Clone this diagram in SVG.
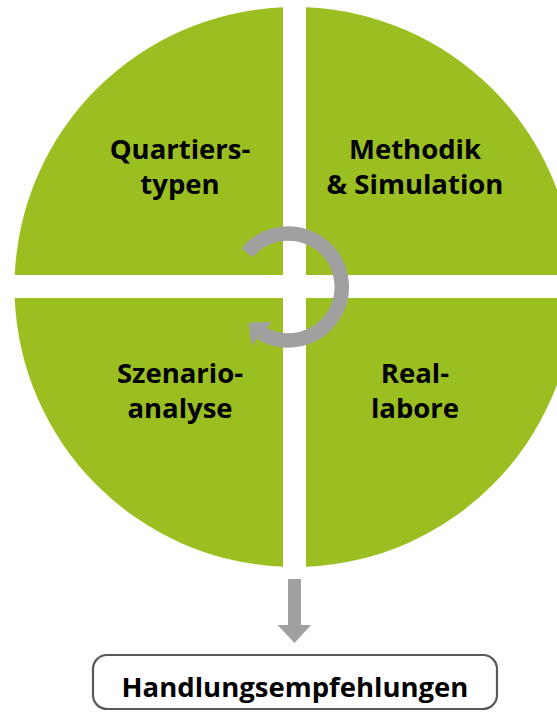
<svg xmlns="http://www.w3.org/2000/svg" width="557" height="712" viewBox="0 0 557 712">
  <style>
    .quad { fill: #9BBF20; }
    .label { font-family: "Open Sans", "Noto Sans", "DejaVu Sans", sans-serif; font-weight: 700; font-size: 27.5px; fill: #000; text-anchor: middle; }
    .flow { fill: #A0A0A0; }
    .box { fill: #FFFFFF; stroke: #595959; stroke-width: 2.2; }
  </style>

  <!-- four quadrants of the cycle disc, separated by a white cross -->
  <g id="quartierstypen">
    <path class="quad" d="M283,275 H14.76 A280,280 0 0 1 283,7.24 Z"/>
    <text class="label" x="180" y="159">Quartiers-</text>
    <text class="label" x="180" y="194">typen</text>
  </g>
  <g id="methodik-simulation">
    <path class="quad" d="M306,275 V7.24 A280,280 0 0 1 574.24,275 Z"/>
    <text class="label" x="415" y="159">Methodik</text>
    <text class="label" x="415" y="194">&amp; Simulation</text>
  </g>
  <g id="szenarioanalyse">
    <path class="quad" d="M283,298 V566.76 A280,280 0 0 1 14.72,298 Z"/>
    <text class="label" x="180" y="383">Szenario-</text>
    <text class="label" x="180" y="418">analyse</text>
  </g>
  <g id="reallabore">
    <path class="quad" d="M306,298 H574.28 A280,280 0 0 1 306,566.76 Z"/>
    <text class="label" x="415" y="383">Real-</text>
    <text class="label" x="415" y="418">labore</text>
  </g>

  <g id="handlungsempfehlungen">
    <rect class="box" x="93" y="655" width="404" height="54" rx="14" ry="14"/>
    <text class="label" x="295" y="697">Handlungsempfehlungen</text>
  </g>

  <g id="connectors">
    <!-- circular iteration arrow around the centre -->
    <path d="M247.1,252.8 A53.5,53.5 0 1 1 261.7,333.4" fill="none" stroke="#A0A0A0" stroke-width="14.5"/>
    <polygon class="flow" points="248.3,322.7 271.7,321.7 251.7,345.5"/>
    <!-- downward arrow to the recommendations -->
    <path class="flow" d="M288,579 H301 V625 H311 L294.5,643 L277.5,625 H288 Z"/>
  </g>
</svg>
